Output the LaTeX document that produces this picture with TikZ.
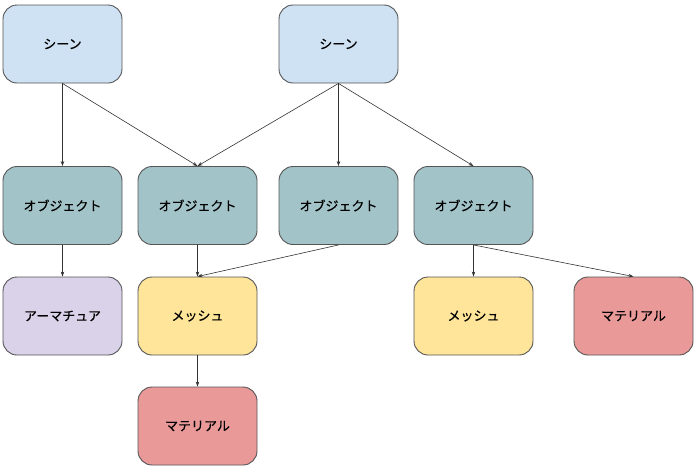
\documentclass[tikz,border=0pt]{standalone}
\usepackage{fontspec}
\setmainfont{Noto Sans CJK JP}
\newfontfamily\labelfont{Noto Sans CJK JP}[FakeBold=0.6]
\usetikzlibrary{arrows.meta}
\definecolor{scenec}{HTML}{CFE2F3}
\definecolor{objc}{HTML}{A2C4C9}
\definecolor{armc}{HTML}{D9D2E9}
\definecolor{meshc}{HTML}{FFE599}
\definecolor{matc}{HTML}{EA9999}
\definecolor{edgec}{HTML}{555555}
\tikzset{
  box/.style={draw=edgec, line width=0.9pt, rounded corners=14pt, minimum width=119pt, minimum height=78pt, inner sep=0pt, font=\labelfont\fontsize{13}{15}\selectfont},
  conn/.style={draw=black!80, line width=0.6pt, -{Stealth[length=5pt,width=3.5pt]}}
}
\begin{document}
\begin{tikzpicture}[x=1pt,y=-1pt]
\useasboundingbox (0,0) rectangle (700,474);
\node[box, fill=scenec] (s1) at (62.5,44) {シーン};
\node[box, fill=scenec] (s2) at (338.5,44) {シーン};
\node[box, fill=objc] (o1) at (62.5,205.5) {オブジェクト};
\node[box, fill=objc] (o2) at (197.5,205.5) {オブジェクト};
\node[box, fill=objc] (o3) at (338.5,205.5) {オブジェクト};
\node[box, fill=objc] (o4) at (473.5,205.5) {オブジェクト};
\node[box, fill=armc] (a1) at (62.5,316) {アーマチュア};
\node[box, fill=meshc] (m1) at (197.5,316) {メッシュ};
\node[box, fill=meshc] (m2) at (473.5,316) {メッシュ};
\node[box, fill=matc] (t2) at (633.5,316) {マテリアル};
\node[box, fill=matc] (t1) at (197.5,426) {マテリアル};
\draw[conn] (s1.south) -- (o1.north);
\draw[conn] (s1.south) -- (o2.north);
\draw[conn] (s2.south) -- (o2.north);
\draw[conn] (s2.south) -- (o3.north);
\draw[conn] (s2.south) -- (o4.north);
\draw[conn] (o1.south) -- (a1.north);
\draw[conn] (o2.south) -- (m1.north);
\draw[conn] (o3.south) -- (m1.north);
\draw[conn] (m1.south) -- (t1.north);
\draw[conn] (o4.south) -- (m2.north);
\draw[conn] (o4.south) -- (t2.north);
\end{tikzpicture}
\end{document}
